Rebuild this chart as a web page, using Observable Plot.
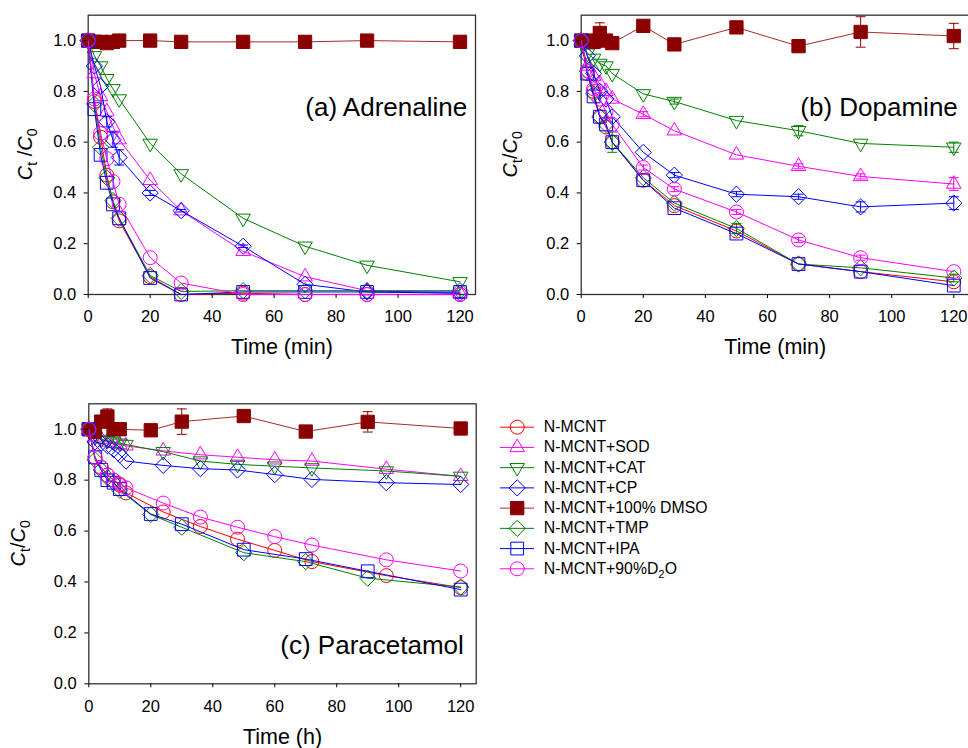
<!DOCTYPE html>
<html><head><meta charset="utf-8">
<script src="https://cdn.jsdelivr.net/npm/d3@7"></script>
<script src="https://cdn.jsdelivr.net/npm/@observablehq/plot@0.6"></script>
<style>
body{margin:0;background:#fff;}
#root{position:relative;width:968px;height:748px;overflow:hidden;background:#fff;font-family:"Liberation Sans",Arial,sans-serif;}
#root > svg{position:absolute;}
</style></head><body><div id="root"></div>
<script>
// ---------------- data ----------------
const seriesNames = ["N-MCNT","N-MCNT+SOD","N-MCNT+CAT","N-MCNT+CP","N-MCNT+100% DMSO","N-MCNT+TMP","N-MCNT+IPA","N-MCNT+90%D2O"];
const panelLabels = ["(a) Adrenaline","(b) Dopamine","(c) Paracetamol"];
const xTitles = ["Time (min)","Time (min)","Time (h)"];
const xTicks = [0,20,40,60,80,100,120];
const yTicks = [0,0.2,0.4,0.6,0.8,1.0];

const timeMin = [0,2,4,6,8,10,20,30,50,70,90,120];
const timeHourLong = [0,2,4,6,8,10,12,24,36,48,60,72,96,120];
const timeHourShort = [0,2,4,6,8,10,20,30,50,70,90,120];

// (a) Adrenaline
const adrNMCNT = [1.0,0.76,0.62,0.47,0.365,0.29,0.07,0.0,0.005,0.0,0.0,0.0];
const adrSOD   = [1.0,0.87,0.78,0.72,0.66,0.61,0.45,0.33,0.17,0.07,0.015,0.005];
const adrCAT   = [1.0,0.94,0.90,0.85,0.81,0.77,0.595,0.475,0.30,0.19,0.115,0.05];
const adrCP    = [1.0,0.90,0.82,0.68,0.61,0.54,0.40,0.33,0.19,0.04,0.01,0.005];
const adrDMSO  = [1.0,0.995,0.995,0.99,0.995,1.0,1.0,0.995,0.995,0.995,1.0,0.995];
const adrTMP   = [1.0,0.75,0.58,0.46,0.37,0.30,0.075,0.012,0.015,0.015,0.015,0.015];
const adrIPA   = [1.0,0.73,0.55,0.44,0.355,0.30,0.065,0.0,0.01,0.01,0.01,0.01];
const adrD2O   = [1.0,0.77,0.635,0.535,0.445,0.355,0.145,0.045,0.0,0.0,0.0,0.0];
const adrErrCP = [0,0,0,0.02,0.03,0.03,0.01,0.005,0.005,0,0,0];

// (b) Dopamine
const dopNMCNT = [1.0,0.87,0.80,0.70,0.66,0.60,0.45,0.35,0.25,0.12,0.09,0.05];
const dopSOD   = [1.0,0.90,0.86,0.83,0.80,0.77,0.71,0.645,0.55,0.505,0.465,0.435];
const dopCAT   = [1.0,0.95,0.93,0.91,0.90,0.87,0.79,0.76,0.685,0.645,0.595,0.58];
const dopCP    = [1.0,0.94,0.87,0.80,0.77,0.70,0.56,0.47,0.395,0.385,0.345,0.36];
const dopDMSO  = [1.0,1.0,0.995,1.03,1.0,0.99,1.058,0.985,1.052,0.978,1.034,1.018];
const dopTMP   = [1.0,0.88,0.79,0.70,0.67,0.60,0.46,0.36,0.26,0.12,0.105,0.065];
const dopIPA   = [1.0,0.87,0.78,0.70,0.67,0.60,0.45,0.34,0.24,0.12,0.09,0.035];
const dopD2O   = [1.0,0.88,0.81,0.77,0.72,0.67,0.50,0.415,0.325,0.215,0.145,0.09];
const dopErrDMSO = [0,0,0,0.04,0,0,0,0,0,0,0.06,0.05];
const dopErrTMP  = [0,0,0,0,0,0.04,0,0,0.02,0,0,0.015];
const dopErrCP   = [0,0,0,0,0,0,0,0.01,0.01,0.01,0.02,0.025];
const dopErrSOD  = [0,0,0,0,0,0,0.01,0,0,0.01,0.01,0.025];
const dopErrCAT  = [0,0,0,0,0,0,0,0.01,0,0.02,0,0.02];
const dopErrD2O  = [0,0,0,0,0,0,0.01,0.01,0.01,0.01,0.01,0];

// (c) Paracetamol
const parNMCNT = [1.0,0.89,0.85,0.82,0.80,0.78,0.75,0.675,0.618,0.568,0.524,0.48,0.425,0.378];
const parSOD   = [1.0,0.97,0.96,0.95,0.945,0.94,0.935,0.915,0.90,0.89,0.88,0.875,0.843,0.815];
const parCAT   = [1.0,0.97,0.96,0.955,0.95,0.945,0.94,0.912,0.875,0.862,0.855,0.848,0.836,0.815];
const parCP    = [1.0,0.95,0.945,0.935,0.92,0.90,0.875,0.858,0.845,0.84,0.822,0.803,0.79,0.783];
const parDMSO  = [1.0,0.99,1.03,1.05,1.0,1.0,0.996,1.03,1.052,0.991,1.029,1.003];
const parTMP   = [1.0,0.88,0.84,0.81,0.79,0.76,0.665,0.615,0.515,0.48,0.415,0.38];
const parIPA   = [1.0,0.89,0.84,0.80,0.79,0.765,0.667,0.627,0.527,0.49,0.442,0.37];
const parD2O   = [1.0,0.89,0.85,0.82,0.80,0.785,0.77,0.71,0.655,0.615,0.578,0.545,0.487,0.443];
const parErrDMSO = [0,0,0.02,0.03,0.02,0.02,0,0.05,0,0,0.04,0];

// ---------------- styles ----------------
const triangleDown = {draw(ctx, size) {
  const y = -Math.sqrt(size / (Math.sqrt(3) * 3));
  ctx.moveTo(0, -2 * y);
  ctx.lineTo(-Math.sqrt(3) * y, y);
  ctx.lineTo(Math.sqrt(3) * y, y);
  ctx.closePath();
}};
const capSymbol = {draw(ctx, size) {
  const w = Math.sqrt(size);
  ctx.moveTo(-w, 0); ctx.lineTo(w, 0);
}};
const styles = [
  {stroke:"#ff0000", symbol:"circle", r:7},
  {stroke:"#ff00ff", symbol:"triangle", r:5.4},
  {stroke:"#008000", symbol:triangleDown, r:5.4},
  {stroke:"#0000ff", symbol:"diamond2", r:7.3},
  {stroke:"#8b0000", line:"#a8282a", symbol:"square", r:7.5, fill:"#8b0000"},
  {stroke:"#008000", symbol:"diamond2", r:7.3},
  {stroke:"#0000ff", symbol:"square", r:7.2},
  {stroke:"#ff00ff", symbol:"circle", r:7}
];
const FONT = "'Liberation Sans', Arial, sans-serif";

const panels = [
  {left:0, top:0, width:484, height:365, ml:87.7, mt:14.7, mr:9, mb:71,
   labelAnchor:"top-right", labelDx:-8.3, labelDy:100.3, yOff:-55.7, ySpace:true, xTitleDy:44,
   series:[
     {i:0,t:timeMin,v:adrNMCNT},{i:1,t:timeMin,v:adrSOD},{i:2,t:timeMin,v:adrCAT},
     {i:3,t:timeMin,v:adrCP,e:adrErrCP},{i:4,t:timeMin,v:adrDMSO},{i:5,t:timeMin,v:adrTMP},
     {i:6,t:timeMin,v:adrIPA},{i:7,t:timeMin,v:adrD2O}]},
  {left:484, top:0, width:490, height:365, ml:96.7, mt:14.7, mr:5.2, mb:71,
   labelAnchor:"top-right", labelDx:-11.5, labelDy:100.3, yOff:-64, ySpace:false, xTitleDy:44,
   series:[
     {i:0,t:timeMin,v:dopNMCNT},{i:1,t:timeMin,v:dopSOD,e:dopErrSOD},{i:2,t:timeMin,v:dopCAT,e:dopErrCAT},
     {i:3,t:timeMin,v:dopCP,e:dopErrCP},{i:4,t:timeMin,v:dopDMSO,e:dopErrDMSO},{i:5,t:timeMin,v:dopTMP,e:dopErrTMP},
     {i:6,t:timeMin,v:dopIPA},{i:7,t:timeMin,v:dopD2O,e:dopErrD2O}]},
  {left:0, top:380, width:484, height:368, ml:88.3, mt:23.3, mr:8.3, mb:64.7,
   labelAnchor:"bottom-right", labelDx:-12.4, labelDy:-30, yOff:-63.3, ySpace:false, xTitleDy:45,
   series:[
     {i:0,t:timeHourLong,v:parNMCNT},{i:1,t:timeHourLong,v:parSOD},{i:2,t:timeHourLong,v:parCAT},
     {i:3,t:timeHourLong,v:parCP},{i:4,t:timeHourShort,v:parDMSO,e:parErrDMSO},{i:5,t:timeHourShort,v:parTMP},
     {i:6,t:timeHourShort,v:parIPA},{i:7,t:timeHourLong,v:parD2O}]}
];

const root = document.getElementById("root");

panels.forEach((p, pi) => {
  const marks = [Plot.frame({stroke:"#333", strokeWidth:1.3})];
  for (const s of p.series) {
    const st = styles[s.i];
    const rows = s.t.map((t, k) => ({t, v: s.v[k], e: s.e ? s.e[k] : 0}));
    marks.push(Plot.line(rows, {x:"t", y:"v", stroke: st.line || st.stroke, strokeWidth:1}));
    const er = rows.filter(d => d.e > 0);
    if (er.length) {
      marks.push(Plot.ruleX(er, {x:"t", y1: d => d.v - d.e, y2: d => d.v + d.e, stroke: st.stroke, strokeWidth:1}));
      marks.push(Plot.dot(er, {x:"t", y: d => d.v + d.e, symbol: capSymbol, r:2.8, stroke: st.stroke, fill:"none", strokeWidth:1}));
      marks.push(Plot.dot(er, {x:"t", y: d => d.v - d.e, symbol: capSymbol, r:2.8, stroke: st.stroke, fill:"none", strokeWidth:1}));
    }
    marks.push(Plot.dot(rows, {x:"t", y:"v", symbol: st.symbol, r: st.r, stroke: st.stroke, fill: st.fill || "none", strokeWidth:1}));
  }
  marks.push(Plot.axisX({ticks: xTicks, tickSize:4, tickPadding:12, fontSize:16.5, label:null}));
  marks.push(Plot.axisY({ticks: yTicks, tickFormat: d3.format(".1f"), tickSize:4, tickPadding:8, fontSize:16.5, label:null}));
  marks.push(Plot.text([panelLabels[pi]], {text: d => d, frameAnchor: p.labelAnchor, dx: p.labelDx, dy: p.labelDy,
    textAnchor:"end", lineAnchor:"bottom", fontSize:26, fill:"#000"}));
  marks.push(Plot.text([xTitles[pi]], {text: d => d, frameAnchor:"bottom", dy: p.xTitleDy, lineAnchor:"top", fontSize:21.5, fill:"#000"}));

  const svg = Plot.plot({
    width: p.width, height: p.height,
    marginLeft: p.ml, marginTop: p.mt, marginRight: p.mr, marginBottom: p.mb,
    style: {fontFamily: FONT, color:"#000", background:"transparent", overflow:"visible"},
    x: {domain:[0,125], label:null},
    y: {domain:[0,1.1], label:null},
    marks
  });
  svg.style.left = p.left + "px";
  svg.style.top = p.top + "px";
  const fh = p.height - p.mt - p.mb;
  const t = d3.select(svg).append("text")
    .attr("transform", `translate(${p.ml + p.yOff},${p.mt + fh / 2}) rotate(-90)`)
    .attr("text-anchor","middle").attr("font-size",20).attr("font-family",FONT).attr("fill","#000");
  t.append("tspan").attr("font-style","italic").text("C");
  t.append("tspan").attr("font-size",14).attr("dy",5).text("t");
  t.append("tspan").attr("dy",-5).text(p.ySpace ? " /" : "/");
  t.append("tspan").attr("font-style","italic").text("C");
  t.append("tspan").attr("font-size",14).attr("dy",5).text("0");
  root.appendChild(svg);
});

// ---------------- legend ----------------
const legMarks = [];
seriesNames.forEach((name, k) => {
  const st = styles[k];
  const rowY = 26.7 + k * 20.23;
  legMarks.push(Plot.ruleY([name], {y: () => rowY, x1: 20, x2: 54, stroke: st.line || st.stroke, strokeWidth:1}));
  legMarks.push(Plot.dot([name], {x: 36.7, y: () => rowY, symbol: st.symbol, r: st.r, stroke: st.stroke, fill: st.fill || "none", strokeWidth:1}));
  legMarks.push(Plot.text([name], {x: 63.3, y: () => rowY, text: d => d, textAnchor:"start", fontSize:15.8, fill:"#000"}));
});
const leg = Plot.plot({
  width: 260, height: 190, margin: 0,
  x: {type:"identity", axis:null}, y: {type:"identity", axis:null},
  style: {fontFamily: FONT, color:"#000", background:"transparent", overflow:"visible"},
  marks: legMarks
});
leg.style.left = "480px";
leg.style.top = "400px";
d3.select(leg).selectAll("text").each(function() {
  if (this.textContent === "N-MCNT+90%D2O") {
    const el = d3.select(this);
    el.text("");
    el.append("tspan").text("N-MCNT+90%D");
    el.append("tspan").attr("font-size", 11.5).attr("dy", 4).text("2");
    el.append("tspan").attr("dy", -4).text("O");
  }
});
root.appendChild(leg);
</script></body></html>
